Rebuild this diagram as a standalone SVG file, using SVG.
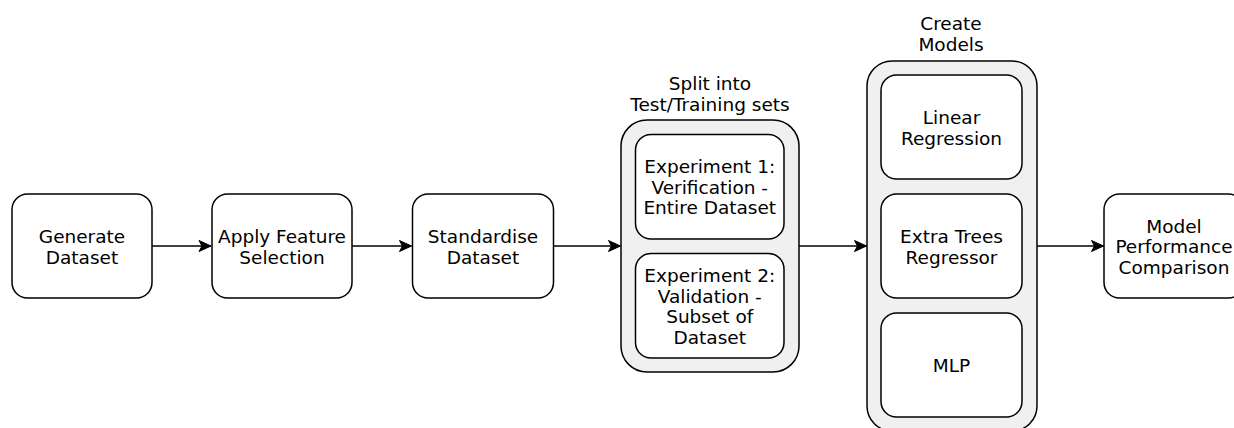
<svg xmlns="http://www.w3.org/2000/svg" width="1234" height="428" viewBox="0 0 1234 428">
<defs>
<style>
.box{fill:#ffffff;stroke:#000000;stroke-width:1.5}
.cont{fill:#f0f0f0;stroke:#000000;stroke-width:1.5}
.t{font-family:"DejaVu Sans",Verdana,sans-serif;font-size:18.5px;fill:#000000;text-anchor:middle}
.edge{fill:none;stroke:#000000;stroke-width:1.5}
</style>
<marker id="arr" markerUnits="userSpaceOnUse" markerWidth="14" markerHeight="14" viewBox="-13 -7 14 14" refX="0" refY="0" orient="auto">
<path d="M0,0 L-12,-5.5 L-9,0 L-12,5.5 Z" fill="#000000" stroke="#000000" stroke-width="1"/>
</marker>
</defs>
<rect width="1234" height="428" fill="#ffffff"/>

<g id="generate">
<rect class="box" x="12" y="194" width="140" height="104" rx="15.6"/>
<text class="t" x="82" y="243">Generate</text>
<text class="t" x="82" y="263.5">Dataset</text>
</g>

<g id="feature">
<rect class="box" x="212" y="194" width="140" height="104" rx="15.6"/>
<text class="t" x="282" y="243">Apply Feature</text>
<text class="t" x="282" y="263.5">Selection</text>
</g>

<g id="standardise">
<rect class="box" x="412.5" y="194" width="141" height="104" rx="15.6"/>
<text class="t" x="483" y="243">Standardise</text>
<text class="t" x="483" y="263.5">Dataset</text>
</g>

<g id="split">
<text class="t" x="710" y="90">Split into</text>
<text class="t" x="710" y="111">Test/Training sets</text>
<rect class="cont" x="621" y="120" width="178" height="252" rx="26"/>
<g id="exp1">
<rect class="box" x="635.5" y="134.5" width="148.5" height="104.5" rx="15.6"/>
<text class="t" x="709.75" y="173.3">Experiment 1:</text>
<text class="t" x="709.75" y="193.8">Verification -</text>
<text class="t" x="709.75" y="214.3">Entire Dataset</text>
</g>
<g id="exp2">
<rect class="box" x="635.5" y="253.5" width="148.5" height="104.5" rx="15.6"/>
<text class="t" x="709.75" y="282">Experiment 2:</text>
<text class="t" x="709.75" y="302.5">Validation -</text>
<text class="t" x="709.75" y="323">Subset of</text>
<text class="t" x="709.75" y="343.5">Dataset</text>
</g>
</g>

<g id="models">
<text class="t" x="951" y="30">Create</text>
<text class="t" x="951" y="51">Models</text>
<rect class="cont" x="867" y="61" width="170" height="370" rx="25"/>
<g id="linear">
<rect class="box" x="881" y="75" width="141" height="104" rx="15.6"/>
<text class="t" x="951.5" y="124">Linear</text>
<text class="t" x="951.5" y="144.5">Regression</text>
</g>
<g id="extratrees">
<rect class="box" x="881" y="194" width="141" height="104" rx="15.6"/>
<text class="t" x="951.5" y="243">Extra Trees</text>
<text class="t" x="951.5" y="263.5">Regressor</text>
</g>
<g id="mlp">
<rect class="box" x="881" y="313" width="141" height="104" rx="15.6"/>
<text class="t" x="951.5" y="372.3">MLP</text>
</g>
</g>

<g id="comparison">
<rect class="box" x="1104" y="194" width="140" height="104" rx="15.6"/>
<text class="t" x="1174" y="232.8">Model</text>
<text class="t" x="1174" y="253.3">Performance</text>
<text class="t" x="1174" y="273.8">Comparison</text>
</g>

<g id="connectors">
<path class="edge" d="M152,246 H211" marker-end="url(#arr)"/>
<path class="edge" d="M352,246 H411.5" marker-end="url(#arr)"/>
<path class="edge" d="M553.5,246 H620.5" marker-end="url(#arr)"/>
<path class="edge" d="M799,246 H866.5" marker-end="url(#arr)"/>
<path class="edge" d="M1037,246 H1103.5" marker-end="url(#arr)"/>
</g>
</svg>
